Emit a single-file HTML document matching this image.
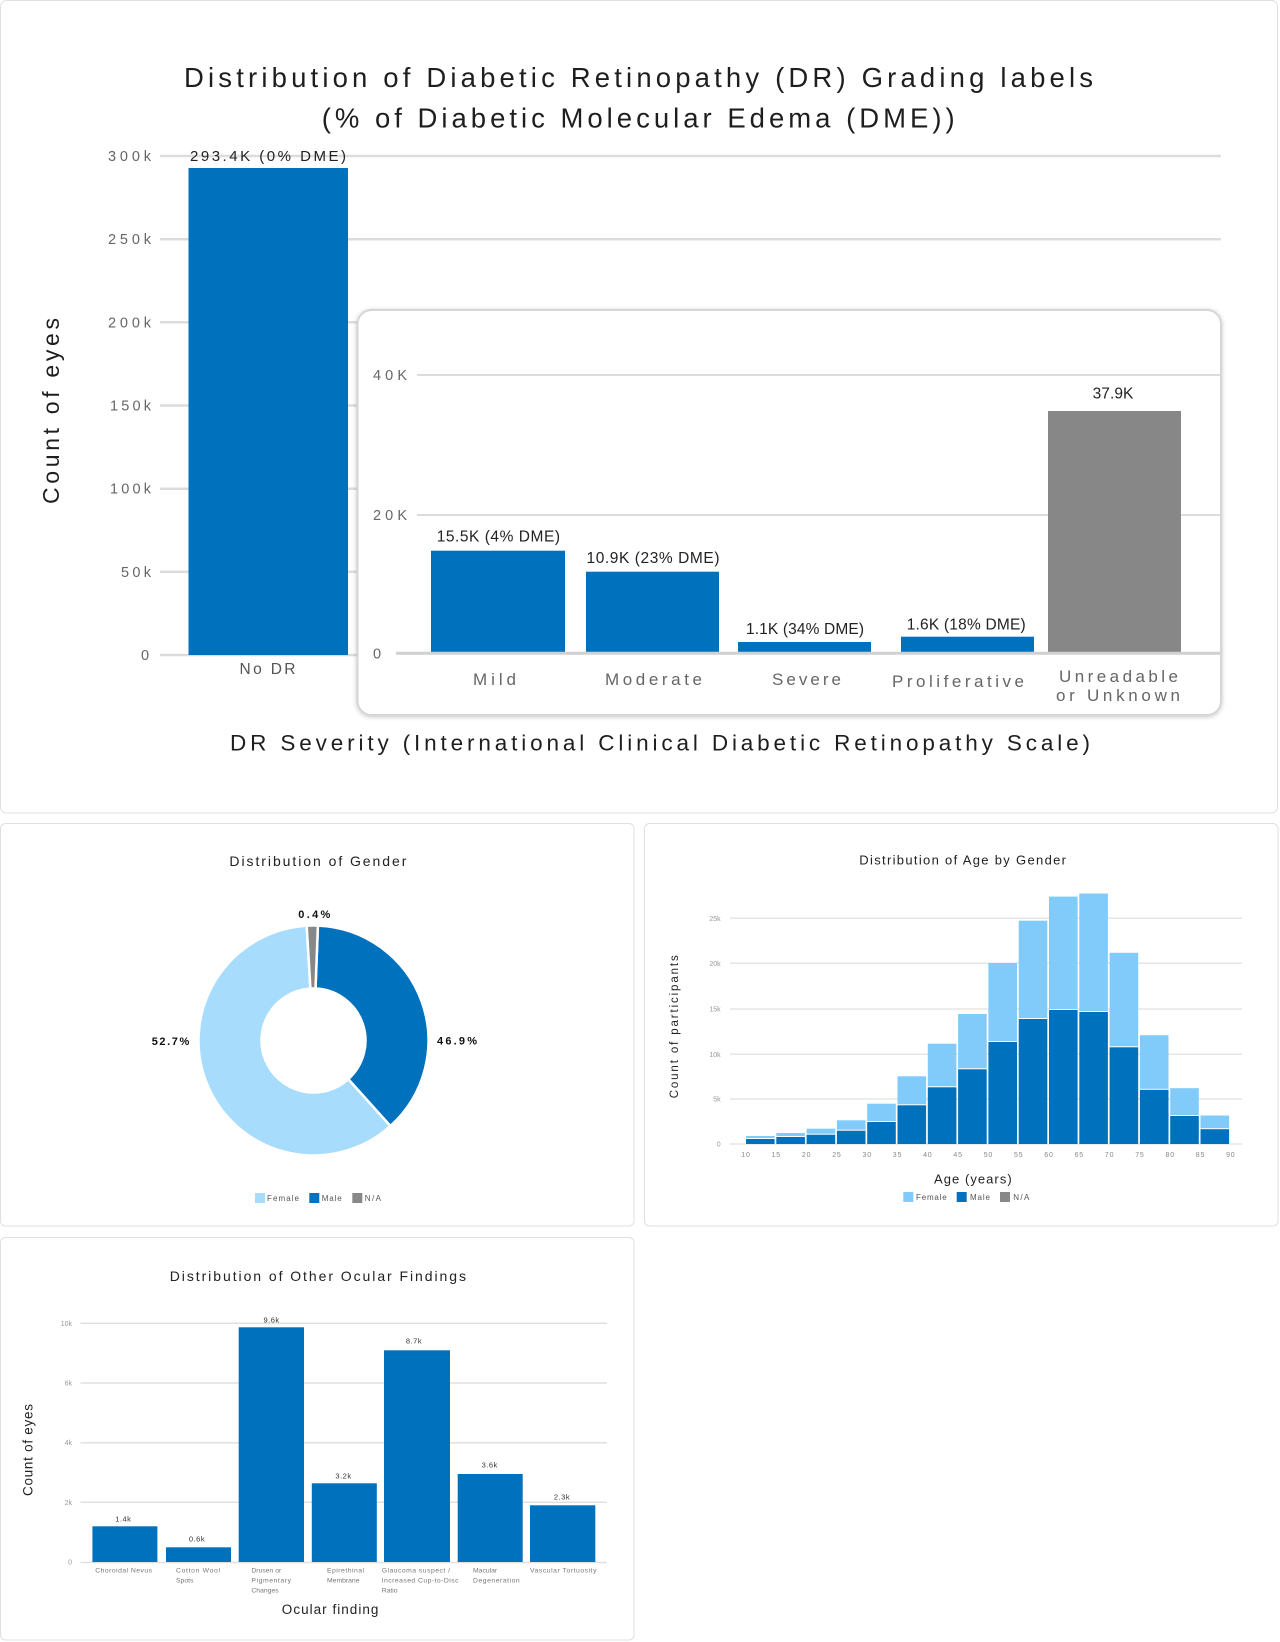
<!DOCTYPE html>
<html>
<head>
<meta charset="utf-8">
<style>
  html, body { margin: 0; padding: 0; background: #ffffff; }
  svg { display: block; }
  text { font-family: "Liberation Sans", "DejaVu Sans", sans-serif; }
</style>
</head>
<body>
<svg width="1280" height="1642" viewBox="0 0 1280 1642" xmlns="http://www.w3.org/2000/svg">
  <defs>
    <filter id="sh" x="-5%" y="-5%" width="110%" height="115%">
      <feDropShadow dx="0" dy="1" stdDeviation="2.5" flood-color="#000" flood-opacity="0.22"/>
    </filter>
  </defs>
  <rect x="0" y="0" width="1280" height="1642" fill="#ffffff"/>

  <!-- ================= TOP CARD ================= -->
  <rect x="0.5" y="0.5" width="1277" height="812.5" rx="6" fill="#fff" stroke="#e0e0e0" stroke-width="1"/>

  <text x="184" y="87" font-size="27.5" fill="#1e1e1e" textLength="909" lengthAdjust="spacing">Distribution of Diabetic Retinopathy (DR) Grading labels</text>
  <text x="321.7" y="127.5" font-size="27.5" fill="#1e1e1e" textLength="633" lengthAdjust="spacing">(% of Diabetic Molecular Edema (DME))</text>

  <!-- main gridlines -->
  <g stroke="#dcdcdc" stroke-width="2.5">
    <line x1="160" y1="156" x2="1221" y2="156"/>
    <line x1="160" y1="239.2" x2="1221" y2="239.2"/>
    <line x1="160" y1="322.3" x2="1221" y2="322.3"/>
    <line x1="160" y1="405.5" x2="1221" y2="405.5"/>
    <line x1="160" y1="488.7" x2="1221" y2="488.7"/>
    <line x1="160" y1="571.8" x2="1221" y2="571.8"/>
    <line x1="160" y1="655" x2="1221" y2="655"/>
  </g>
  <g font-size="14.5" fill="#666">
    <text x="108" y="161" textLength="43" lengthAdjust="spacing">300k</text>
    <text x="108" y="244.2" textLength="43" lengthAdjust="spacing">250k</text>
    <text x="108" y="327.3" textLength="43" lengthAdjust="spacing">200k</text>
    <text x="110" y="410.5" textLength="41" lengthAdjust="spacing">150k</text>
    <text x="110" y="493.7" textLength="41" lengthAdjust="spacing">100k</text>
    <text x="121" y="576.8" textLength="30" lengthAdjust="spacing">50k</text>
    <text x="141" y="660">0</text>
  </g>

  <rect x="188.5" y="168" width="159.5" height="487" fill="#0071bc"/>
  <text x="190" y="161" font-size="15" fill="#222" textLength="156" lengthAdjust="spacing">293.4K (0% DME)</text>
  <text x="239.5" y="674" font-size="15.5" fill="#555" textLength="56" lengthAdjust="spacing">No DR</text>

  <text transform="translate(59,504) rotate(-90)" x="0" y="0" font-size="23" fill="#1e1e1e" textLength="186" lengthAdjust="spacing">Count of eyes</text>

  <!-- inset card -->
  <rect x="357.5" y="310" width="863.5" height="405" rx="14" fill="#fff" stroke="#d6d6d6" stroke-width="2" filter="url(#sh)"/>
  <g stroke="#dcdcdc" stroke-width="2">
    <line x1="417" y1="375" x2="1220" y2="375"/>
    <line x1="417" y1="515" x2="1220" y2="515"/>
  </g>
  <g font-size="14.5" fill="#666">
    <text x="373" y="380" textLength="34" lengthAdjust="spacing">40K</text>
    <text x="373" y="520" textLength="34" lengthAdjust="spacing">20K</text>
    <text x="373" y="658.5">0</text>
  </g>
  <rect x="431" y="550.7" width="134" height="101.3" fill="#0071bc"/>
  <rect x="586" y="571.7" width="133" height="80.3" fill="#0071bc"/>
  <rect x="738" y="642" width="133" height="10" fill="#0071bc"/>
  <rect x="901" y="636.7" width="133" height="15.3" fill="#0071bc"/>
  <rect x="1048" y="411" width="133" height="241" fill="#878787"/>
  <line x1="396" y1="653.3" x2="1220" y2="653.3" stroke="#d0d0d0" stroke-width="3"/>

  <g font-size="15.5" fill="#222">
    <text x="436.7" y="541.5" textLength="123.3" lengthAdjust="spacing">15.5K (4% DME)</text>
    <text x="586.5" y="563" textLength="133" lengthAdjust="spacing">10.9K (23% DME)</text>
    <text x="746" y="634" textLength="118" lengthAdjust="spacing">1.1K (34% DME)</text>
    <text x="906.7" y="629.5" textLength="119" lengthAdjust="spacing">1.6K (18% DME)</text>
    <text x="1092.6" y="398.5" textLength="40.8" lengthAdjust="spacing">37.9K</text>
  </g>
  <g font-size="17" fill="#666">
    <text x="473" y="685" textLength="43" lengthAdjust="spacing">Mild</text>
    <text x="605" y="685" textLength="97" lengthAdjust="spacing">Moderate</text>
    <text x="772" y="685" textLength="69" lengthAdjust="spacing">Severe</text>
    <text x="892" y="687" textLength="132" lengthAdjust="spacing">Proliferative</text>
    <text x="1059" y="682" textLength="119" lengthAdjust="spacing">Unreadable</text>
    <text x="1056" y="701" textLength="124" lengthAdjust="spacing">or Unknown</text>
  </g>
  <text x="230" y="750.5" font-size="22.5" fill="#1e1e1e" textLength="860" lengthAdjust="spacing">DR Severity (International Clinical Diabetic Retinopathy Scale)</text>

  <!-- ================= GENDER CARD ================= -->
  <rect x="0.5" y="823.5" width="633.5" height="402.5" rx="5" fill="#fff" stroke="#e0e0e0" stroke-width="1"/>
  <text x="229.4" y="866" font-size="14" fill="#222" textLength="177" lengthAdjust="spacing">Distribution of Gender</text>

  <g stroke="#fff" stroke-width="2.5" stroke-linejoin="miter">
    <path d="M390.45,1125.96 A115,115 0 1 1 306.68,925.70 L310.42,988.59 A52,52 0 1 0 348.29,1079.14 Z" fill="#a8dcfc"/>
    <path d="M317.91,925.59 A115,115 0 0 1 390.45,1125.96 L348.29,1079.14 A52,52 0 0 0 315.50,988.54 Z" fill="#0071bc"/>
    <path d="M306.68,925.70 A115,115 0 0 1 317.91,925.59 L315.50,988.54 A52,52 0 0 0 310.42,988.59 Z" fill="#888888"/>
  </g>
  <g font-size="11" font-weight="bold" fill="#111">
    <text x="298.3" y="918" textLength="32" lengthAdjust="spacing">0.4%</text>
    <text x="151.7" y="1045" textLength="37.6" lengthAdjust="spacing">52.7%</text>
    <text x="437" y="1044.5" textLength="40" lengthAdjust="spacing">46.9%</text>
  </g>
  <rect x="255" y="1193" width="10" height="10" fill="#a8dcfc"/>
  <rect x="309.3" y="1193" width="10" height="10" fill="#0071bc"/>
  <rect x="352.3" y="1193" width="10" height="10" fill="#888"/>
  <g font-size="8" fill="#555">
    <text x="267" y="1201" textLength="32" lengthAdjust="spacing">Female</text>
    <text x="321.7" y="1201" textLength="20" lengthAdjust="spacing">Male</text>
    <text x="364.7" y="1201" textLength="16.3" lengthAdjust="spacing">N/A</text>
  </g>

  <!-- ================= AGE CARD ================= -->
  <rect x="644.5" y="823.5" width="633.5" height="402.5" rx="5" fill="#fff" stroke="#e0e0e0" stroke-width="1"/>
  <text x="859.3" y="864.5" font-size="13" fill="#222" textLength="206.7" lengthAdjust="spacing">Distribution of Age by Gender</text>

  <g stroke="#e6e6e6" stroke-width="1.5">
    <line x1="730" y1="918.3" x2="1242" y2="918.3"/>
    <line x1="730" y1="963.3" x2="1242" y2="963.3"/>
    <line x1="730" y1="1009" x2="1242" y2="1009"/>
    <line x1="730" y1="1054.3" x2="1242" y2="1054.3"/>
    <line x1="730" y1="1099" x2="1242" y2="1099"/>
    <line x1="730" y1="1144" x2="1242" y2="1144"/>
  </g>
  <g font-size="7" fill="#999" text-anchor="end">
    <text x="720.7" y="921">25k</text>
    <text x="720.7" y="966">20k</text>
    <text x="720.7" y="1011.5">15k</text>
    <text x="720.7" y="1057">10k</text>
    <text x="720.7" y="1101.5">5k</text>
    <text x="720.7" y="1146.5">0</text>
  </g>

  <!-- stacked bars: female (light) on top of male (dark) -->
  <g>
    <rect x="746.0" y="1136" width="28.6" height="2" fill="#80cbfa"/><rect x="746.0" y="1139" width="28.6" height="5" fill="#0071bc"/>
    <rect x="776.3" y="1133" width="28.6" height="3" fill="#80cbfa"/><rect x="776.3" y="1137" width="28.6" height="7" fill="#0071bc"/>
    <rect x="806.6" y="1128.7" width="28.6" height="5" fill="#80cbfa"/><rect x="806.6" y="1134.7" width="28.6" height="9.3" fill="#0071bc"/>
    <rect x="836.9" y="1120.3" width="28.6" height="9.4" fill="#80cbfa"/><rect x="836.9" y="1130.7" width="28.6" height="13.3" fill="#0071bc"/>
    <rect x="867.2" y="1103.7" width="28.6" height="17.3" fill="#80cbfa"/><rect x="867.2" y="1122" width="28.6" height="22" fill="#0071bc"/>
    <rect x="897.5" y="1076.3" width="28.6" height="28" fill="#80cbfa"/><rect x="897.5" y="1105.3" width="28.6" height="38.7" fill="#0071bc"/>
    <rect x="927.8" y="1043.7" width="28.6" height="42.6" fill="#80cbfa"/><rect x="927.8" y="1087.3" width="28.6" height="56.7" fill="#0071bc"/>
    <rect x="958.1" y="1014" width="28.6" height="54.3" fill="#80cbfa"/><rect x="958.1" y="1069.3" width="28.6" height="74.7" fill="#0071bc"/>
    <rect x="988.4" y="963" width="28.6" height="78" fill="#80cbfa"/><rect x="988.4" y="1042" width="28.6" height="102" fill="#0071bc"/>
    <rect x="1018.7" y="920.7" width="28.6" height="97.3" fill="#80cbfa"/><rect x="1018.7" y="1019" width="28.6" height="125" fill="#0071bc"/>
    <rect x="1049.0" y="896.6" width="28.6" height="112.4" fill="#80cbfa"/><rect x="1049.0" y="1010" width="28.6" height="134" fill="#0071bc"/>
    <rect x="1079.3" y="893.5" width="28.6" height="117.5" fill="#80cbfa"/><rect x="1079.3" y="1012" width="28.6" height="132" fill="#0071bc"/>
    <rect x="1109.6" y="952.8" width="28.6" height="93.5" fill="#80cbfa"/><rect x="1109.6" y="1047.3" width="28.6" height="96.7" fill="#0071bc"/>
    <rect x="1139.9" y="1035.2" width="28.6" height="53.6" fill="#80cbfa"/><rect x="1139.9" y="1089.8" width="28.6" height="54.2" fill="#0071bc"/>
    <rect x="1170.2" y="1088.2" width="28.6" height="26.8" fill="#80cbfa"/><rect x="1170.2" y="1116" width="28.6" height="28" fill="#0071bc"/>
    <rect x="1200.5" y="1115.5" width="28.6" height="12.7" fill="#80cbfa"/><rect x="1200.5" y="1129.2" width="28.6" height="14.8" fill="#0071bc"/>
  </g>

  <g font-size="7" fill="#888" text-anchor="middle" letter-spacing="0.8">
    <text x="746" y="1157">10</text>
    <text x="776.3" y="1157">15</text>
    <text x="806.6" y="1157">20</text>
    <text x="836.9" y="1157">25</text>
    <text x="867.2" y="1157">30</text>
    <text x="897.5" y="1157">35</text>
    <text x="927.8" y="1157">40</text>
    <text x="958.1" y="1157">45</text>
    <text x="988.4" y="1157">50</text>
    <text x="1018.7" y="1157">55</text>
    <text x="1049.0" y="1157">60</text>
    <text x="1079.3" y="1157">65</text>
    <text x="1109.6" y="1157">70</text>
    <text x="1139.9" y="1157">75</text>
    <text x="1170.2" y="1157">80</text>
    <text x="1200.5" y="1157">85</text>
    <text x="1230.8" y="1157">90</text>
  </g>
  <text transform="translate(678,1098.3) rotate(-90)" x="0" y="0" font-size="11.5" fill="#222" textLength="143" lengthAdjust="spacing">Count of participants</text>
  <text x="934" y="1183.5" font-size="13" fill="#222" textLength="77.7" lengthAdjust="spacing">Age (years)</text>
  <rect x="903.3" y="1192" width="10" height="10" fill="#80cbfa"/>
  <rect x="956.7" y="1192" width="10" height="10" fill="#0071bc"/>
  <rect x="1000" y="1192" width="10" height="10" fill="#888"/>
  <g font-size="8" fill="#555">
    <text x="916" y="1200" textLength="30.7" lengthAdjust="spacing">Female</text>
    <text x="970" y="1200" textLength="20" lengthAdjust="spacing">Male</text>
    <text x="1013.3" y="1200" textLength="16" lengthAdjust="spacing">N/A</text>
  </g>

  <!-- ================= OCULAR CARD ================= -->
  <rect x="0.5" y="1237.5" width="633.5" height="402.5" rx="5" fill="#fff" stroke="#e0e0e0" stroke-width="1"/>
  <text x="169.7" y="1281" font-size="14" fill="#222" textLength="296.3" lengthAdjust="spacing">Distribution of Other Ocular Findings</text>

  <g stroke="#e0e0e0" stroke-width="1.5">
    <line x1="80.5" y1="1323.3" x2="607" y2="1323.3"/>
    <line x1="80.5" y1="1383" x2="607" y2="1383"/>
    <line x1="80.5" y1="1442.7" x2="607" y2="1442.7"/>
    <line x1="80.5" y1="1502.3" x2="607" y2="1502.3"/>
    <line x1="80.5" y1="1562.5" x2="607" y2="1562.5"/>
  </g>
  <g font-size="7" fill="#999" text-anchor="end">
    <text x="72" y="1325.8">10k</text>
    <text x="72" y="1385.5">6k</text>
    <text x="72" y="1445.2">4k</text>
    <text x="72" y="1504.8">2k</text>
    <text x="72" y="1564.5">0</text>
  </g>
  <g fill="#0071bc">
    <rect x="92.4" y="1526.3" width="65" height="35.7"/>
    <rect x="166" y="1547.3" width="65" height="14.7"/>
    <rect x="238.7" y="1327.3" width="65.3" height="234.7"/>
    <rect x="311.8" y="1483.3" width="65" height="78.7"/>
    <rect x="384" y="1350.3" width="66" height="211.7"/>
    <rect x="457.7" y="1474" width="65" height="88"/>
    <rect x="530" y="1505.3" width="65.3" height="56.7"/>
  </g>
  <g font-size="7.5" fill="#333" text-anchor="middle" letter-spacing="0.5">
    <text x="123.3" y="1521.7">1.4k</text>
    <text x="197" y="1541.7">0.6k</text>
    <text x="271.6" y="1322.7">9.6k</text>
    <text x="343.5" y="1478.7">3.2k</text>
    <text x="414" y="1343.7">8.7k</text>
    <text x="489.7" y="1467.7">3.6k</text>
    <text x="562" y="1499.7">2.3k</text>
  </g>
  <g font-size="6.8" fill="#777">
    <text x="95.3" y="1572.5" textLength="56.7" lengthAdjust="spacing">Choroidal Nevus</text>
    <text x="176" y="1572.5" textLength="44" lengthAdjust="spacing">Cotton Wool</text>
    <text x="176" y="1582.5">Spots</text>
    <text x="251.4" y="1572.5">Drusen or</text>
    <text x="251.4" y="1582.5" textLength="39.6" lengthAdjust="spacing">Pigmentary</text>
    <text x="251.4" y="1592.5">Changes</text>
    <text x="327" y="1572.5" textLength="37" lengthAdjust="spacing">Epirethinal</text>
    <text x="327" y="1582.5">Membrane</text>
    <text x="381.7" y="1572.5" textLength="68.3" lengthAdjust="spacing">Glaucoma suspect /</text>
    <text x="381.7" y="1582.5" textLength="76.8" lengthAdjust="spacing">Increased Cup-to-Disc</text>
    <text x="381.7" y="1592.5">Ratio</text>
    <text x="473" y="1572.5">Macular</text>
    <text x="473" y="1582.5" textLength="46.7" lengthAdjust="spacing">Degeneration</text>
    <text x="530" y="1572.5" textLength="66.5" lengthAdjust="spacing">Vascular Tortuosity</text>
  </g>
  <text x="281.8" y="1614" font-size="13.5" fill="#222" textLength="96.6" lengthAdjust="spacing">Ocular finding</text>
  <text transform="translate(32.3,1496) rotate(-90)" x="0" y="0" font-size="13.5" fill="#222" textLength="92" lengthAdjust="spacing">Count of eyes</text>
</svg>
</body>
</html>
